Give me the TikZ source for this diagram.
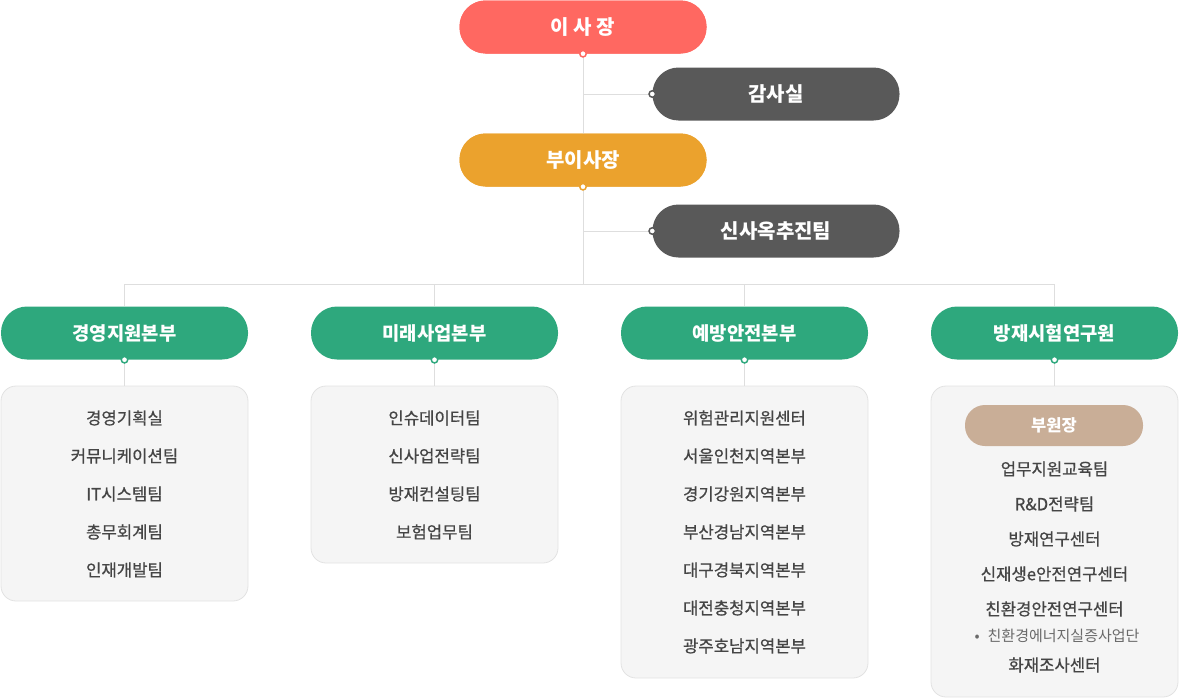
\documentclass[tikz,border=0pt]{standalone}
\usepackage{fontspec}
\setmainfont{Noto Sans CJK KR}
\newfontfamily\medfont[FakeBold=0.7]{Noto Sans CJK KR}
\usepackage{tikz}
\usetikzlibrary{
	positioning
}

\definecolor{ceored}{HTML}{FF6861}
\definecolor{vporange}{HTML}{EBA22D}
\definecolor{staffgray}{HTML}{595959}
\definecolor{deptgreen}{HTML}{2EA87D}
\definecolor{subtan}{HTML}{C9AE97}
\definecolor{linegray}{HTML}{DEDEDE}
\definecolor{panelfill}{HTML}{F5F5F5}
\definecolor{panelline}{HTML}{E2E2E2}
\definecolor{itemtext}{HTML}{454545}

\tikzset{
	pill/.style={rounded corners=26pt,minimum width=247pt,minimum height=53pt,
		inner sep=0pt,text=white,font=\fontsize{20}{22}\selectfont\bfseries},
	staff/.style={pill,fill=staffgray},
	dept/.style={pill,fill=deptgreen,font=\fontsize{18.8}{21}\selectfont\bfseries},
	panel/.style={draw=panelline,fill=panelfill,rounded corners=15pt,
		minimum width=247pt,inner sep=0pt,line width=0.8pt},
	item/.style={text=itemtext,inner sep=0pt,font=\fontsize{16.7}{19}\medfont},
	dot/.style={circle,fill=white,draw=#1,line width=1.5pt,minimum size=6.5pt,inner sep=0pt},
	link/.style={draw=linegray,line width=1pt}
}

\begin{document}
\begin{tikzpicture}[x=1pt,y=-1pt]
	\useasboundingbox (0,0) rectangle (1179,699);

	% top of the chart
	\node [pill,fill=ceored]   (ceo)   at (583,27)  {이 사 장};
	\node [staff]              (audit) at (776,94)  {감사실};
	\node [pill,fill=vporange] (vp)    at (583,160) {부이사장};
	\node [staff]              (hq)    at (776,231) {신사옥추진팀};
	\coordinate (hub) at (583,284);

	% divisions
	\node [dept] (d1) at (124.5,333)  {경영지원본부};
	\node [dept] (d2) at (434.5,333)  {미래사업본부};
	\node [dept] (d3) at (744.5,333)  {예방안전본부};
	\node [dept] (d4) at (1054.5,333) {방재시험연구원};

	% panels
	\node [panel,minimum height=215pt] (p1) at (124.5,493.5)  {};
	\node [panel,minimum height=177pt] (p2) at (434.5,474.5)  {};
	\node [panel,minimum height=292pt] (p3) at (744.5,532)    {};
	\node [panel,minimum height=311pt] (p4) at (1054.5,541.5) {};

	% connectors
	\path[link]
		(ceo.south) -- (hub)
		(ceo.south |- audit) -- (audit.west)
		(vp.south |- hq) -- (hq.west)
		(d1.north |- hub) -- (d4.north |- hub)
		(d1.north |- hub) -- (d1.north)
		(d2.north |- hub) -- (d2.north)
		(d3.north |- hub) -- (d3.north)
		(d4.north |- hub) -- (d4.north)
		(d1.south) -- (p1.north)
		(d2.south) -- (p2.north)
		(d3.south) -- (p3.north)
		(d4.south) -- (p4.north)
	;
	% redraw boxes over the trunk line
	\node [pill,fill=ceored]   at (ceo)   {이 사 장};
	\node [pill,fill=vporange] at (vp)    {부이사장};
	\node [dot=ceored]    at (ceo.south)  {};
	\node [dot=vporange]  at (vp.south)   {};
	\node [dot=staffgray] at (audit.west) {};
	\node [dot=staffgray] at (hq.west)    {};
	\node [dot=deptgreen] at (d1.south)   {};
	\node [dot=deptgreen] at (d2.south)   {};
	\node [dot=deptgreen] at (d3.south)   {};
	\node [dot=deptgreen] at (d4.south)   {};

	% teams of 경영지원본부
	\node [item] (a1) at (124.5,418) {경영기획실};
	\node [item] (a2) at (124.5,456) {커뮤니케이션팀};
	\node [item] (a3) at (124.5,494) {IT시스템팀};
	\node [item] (a4) at (124.5,532) {총무회계팀};
	\node [item] (a5) at (124.5,570) {인재개발팀};

	% teams of 미래사업본부
	\node [item] (b1) at (434.5,418) {인슈데이터팀};
	\node [item] (b2) at (434.5,456) {신사업전략팀};
	\node [item] (b3) at (434.5,494) {방재컨설팅팀};
	\node [item] (b4) at (434.5,532) {보험업무팀};

	% teams of 예방안전본부
	\node [item] (c1) at (744.5,418) {위험관리지원센터};
	\node [item] (c2) at (744.5,456) {서울인천지역본부};
	\node [item] (c3) at (744.5,494) {경기강원지역본부};
	\node [item] (c4) at (744.5,532) {부산경남지역본부};
	\node [item] (c5) at (744.5,570) {대구경북지역본부};
	\node [item] (c6) at (744.5,608) {대전충청지역본부};
	\node [item] (c7) at (744.5,646) {광주호남지역본부};

	% teams of 방재시험연구원
	\node [pill,fill=subtan,minimum width=178pt,minimum height=41pt,rounded corners=20pt,
		font=\fontsize{16.5}{18}\selectfont\bfseries] (e0) at (1054,425.5) {부원장};
	\node [item] (e1) at (1054.5,469) {업무지원교육팀};
	\node [item] (e2) at (1054.5,504) {R\&D전략팀};
	\node [item] (e3) at (1054.5,539) {방재연구센터};
	\node [item] (e4) at (1054.5,574) {신재생e안전연구센터};
	\node [item] (e5) at (1054.5,609) {친환경안전연구센터};
	\node [item,text=itemtext!80,font=\fontsize{15}{17}\selectfont] (e6) at (1057,636)
		{\textbullet\hspace{8pt}친환경에너지실증사업단};
	\node [item] (e7) at (1054.5,665) {화재조사센터};
\end{tikzpicture}
\end{document}
